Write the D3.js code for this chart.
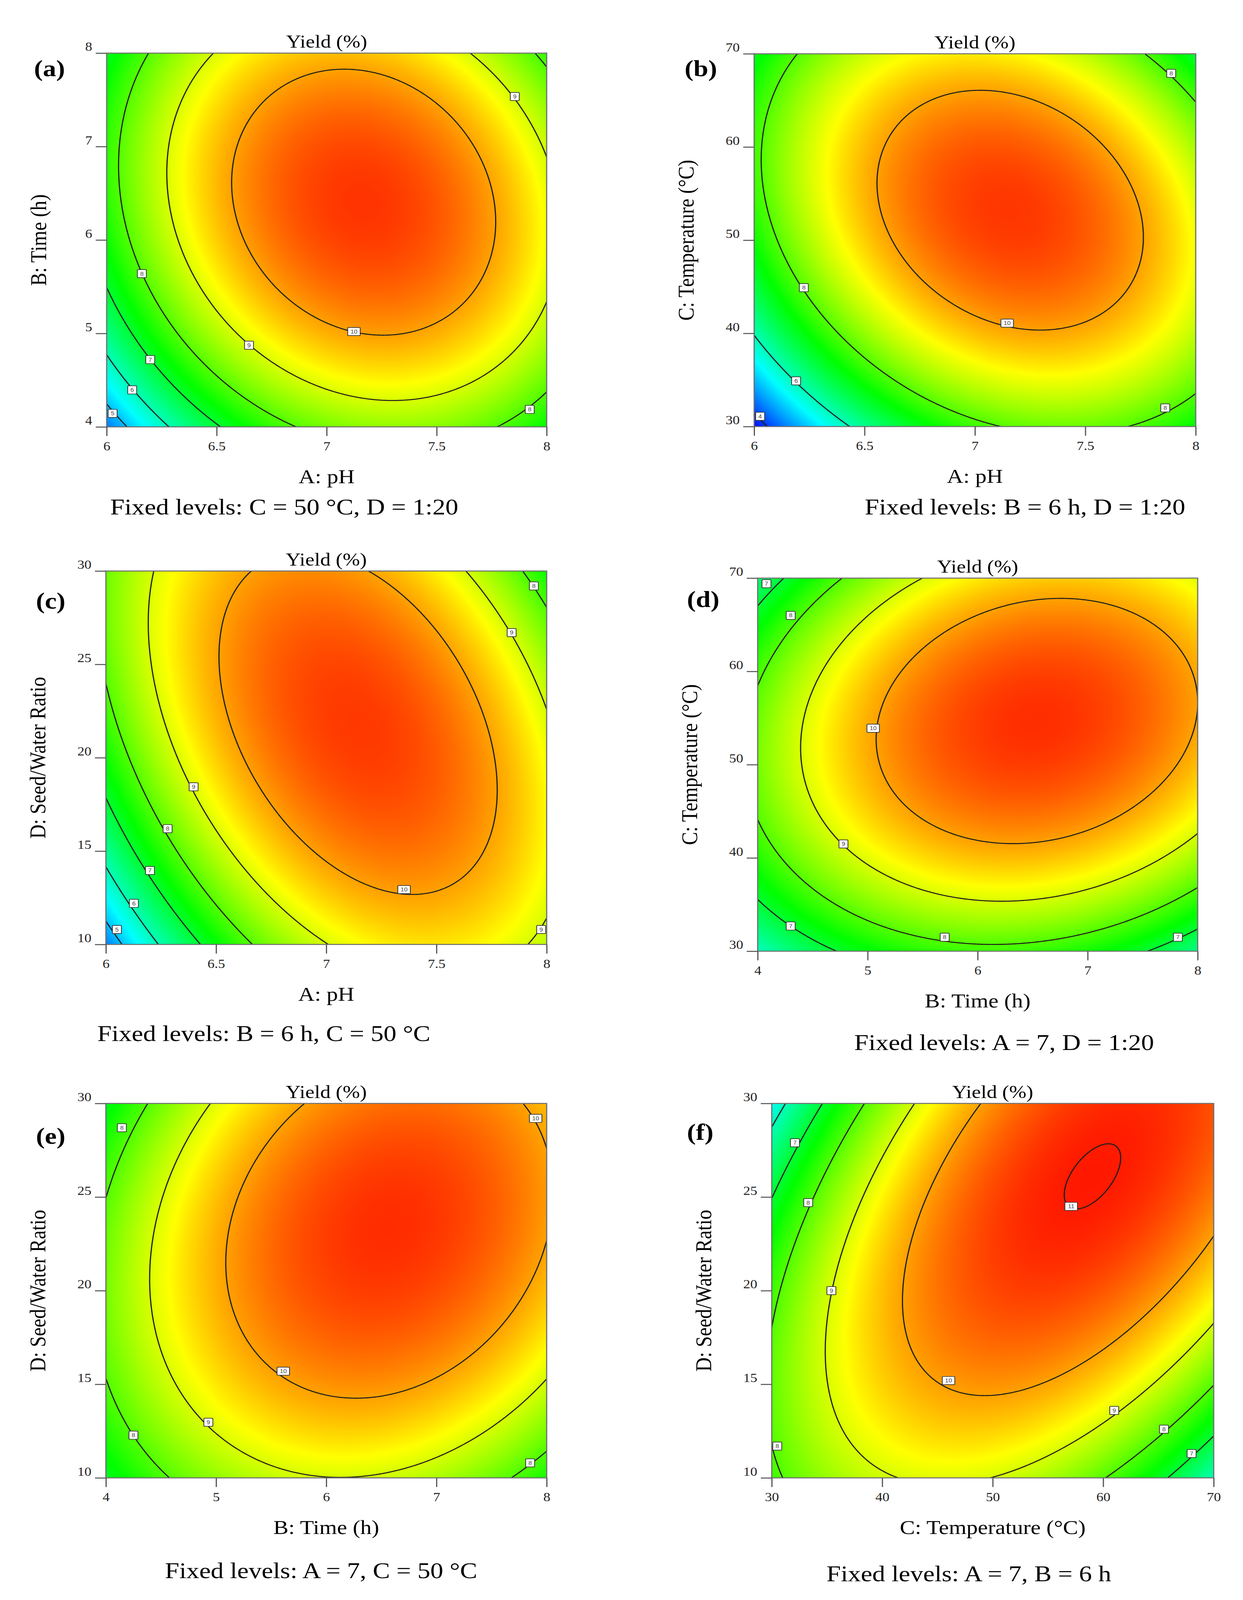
<!DOCTYPE html>
<html>
<head>
<meta charset="utf-8">
<script src="https://cdn.jsdelivr.net/npm/d3@7"></script>
<style>
  html, body { margin: 0; padding: 0; background: #fff; overflow: hidden; }
  svg { display: block; width: 100vw; height: 100vh; }
</style>
</head>
<body>
<svg id="fig" viewBox="0 0 3181 4730" preserveAspectRatio="none"></svg>
<script>
// ---------------------------------------------------------------------------
// Data: factors, fitted quadratic model (coded units), panel contents
// ---------------------------------------------------------------------------

// Factors A..D
const factorNames = ["A: pH", "B: Time (h)", "C: Temperature (°C)", "D: Seed/Water Ratio"];
const factorLow   = [6, 4, 30, 10];
const factorHigh  = [8, 8, 70, 30];
const factorTicks = [
  [6, 6.5, 7, 7.5, 8],
  [4, 5, 6, 7, 8],
  [30, 40, 50, 60, 70],
  [10, 15, 20, 25, 30],
];

// Yield (%) response surface, coded factors in [-1, 1]
const intercept   = 10.67;
const linearCoef  = [0.88, 0.752, 0.796, 0.574];
const squareCoef  = [-2.32, -1.65, -2.04, -1.10];
// [factor i, factor j, coefficient]
const interactionCoef = [
  [0, 1, -0.578],
  [0, 2, -0.98],
  [0, 3, -1.245],
  [1, 2, 0.546],
  [1, 3, 0.55],
  [2, 3, 1.70],
];

// Panels: which factor is on x / y
const panelTags    = ["(a)", "(b)", "(c)", "(d)", "(e)", "(f)"];
const panelXFactor = [0, 0, 0, 1, 1, 2];
const panelYFactor = [1, 2, 3, 2, 3, 3];
const fixedLevels = [
  "Fixed levels: C = 50 °C, D = 1:20",
  "Fixed levels: B = 6 h, D = 1:20",
  "Fixed levels: B = 6 h, C = 50 °C",
  "Fixed levels: A = 7, D = 1:20",
  "Fixed levels: A = 7, C = 50 °C",
  "Fixed levels: A = 7, B = 6 h",
];
const contourLevels = [
  [5, 6, 7, 8, 9, 10],
  [4, 6, 8, 10],
  [5, 6, 7, 8, 9, 10],
  [7, 8, 9, 10],
  [8, 9, 10],
  [6, 7, 8, 9, 10, 11],
];
// contour labels: [level, x value, y value]
const contourLabels = [
  [[9, 7.855, 7.536], [8, 6.16, 5.64], [10, 7.124, 5.02], [9, 6.647, 4.874],
   [7, 6.198, 4.72], [6, 6.116, 4.396], [5, 6.027, 4.144], [8, 7.923, 4.187]],
  [[8, 7.889, 67.9], [8, 6.225, 44.9], [10, 7.146, 41.1], [6, 6.19, 34.9],
   [4, 6.027, 31.1], [8, 7.862, 32.0]],
  [[8, 7.942, 29.2], [9, 7.841, 26.7], [9, 6.398, 18.44], [8, 6.28, 16.2],
   [7, 6.20, 13.96], [10, 7.353, 12.94], [6, 6.127, 12.2], [5, 6.05, 10.8],
   [9, 7.975, 10.8]],
  [[7, 4.08, 69.4], [8, 4.30, 66.0], [10, 5.05, 53.9], [9, 4.78, 41.5],
   [7, 4.30, 32.7], [8, 5.70, 31.5], [7, 7.82, 31.5]],
  [[8, 4.145, 28.7], [10, 7.9, 29.2], [10, 5.61, 15.7], [9, 4.93, 12.97],
   [8, 4.25, 12.28], [8, 7.85, 10.8]],
  [[7, 32.1, 27.9], [8, 33.3, 24.7], [11, 57.1, 24.5], [9, 35.4, 20.0],
   [10, 46.0, 15.2], [9, 61.0, 13.6], [8, 65.5, 12.6], [8, 30.5, 11.7],
   [7, 68.0, 11.3]],
];

// Design-Expert style colour ramp over the response range
const colorStops = [3.6, 5.5, 7.4, 9.3, 11.2];
const colorRange = ["#0000ff", "#00ffff", "#00ff00", "#ffff00", "#ff0000"];

// ---------------------------------------------------------------------------
// Layout (plot rectangles and text anchors, page pixels)
// ---------------------------------------------------------------------------
const plotBoxes = [
  [273, 157, 1126, 1105],
  [1930, 159, 1130, 1102],
  [271, 1688, 1128, 1104],
  [1939, 1709, 1126, 1103],
  [271, 3262, 1128, 1107],
  [1975, 3262, 1131, 1107],
];
const tagPos = [[87, 225], [1752, 225], [92, 1799], [1758, 1795], [92, 3381], [1758, 3370]];
const captionPos = [[282, 1521], [2213, 1521], [249, 3078], [2186, 3104], [422, 4665], [2115, 4674]];

const SERIF = "'Liberation Serif', 'Times New Roman', serif";

const svg = d3.select("#fig");
svg.append("rect").attr("width", 3181).attr("height", 4730).attr("fill", "#fff");
const defs = svg.append("defs");

const color = d3.scaleLinear().domain(colorStops).range(colorRange).clamp(true);
const LUT_N = 1024;
const zLo = colorStops[0], zHi = colorStops[colorStops.length - 1];
const lut = d3.range(LUT_N).map(i => d3.rgb(color(zLo + i / (LUT_N - 1) * (zHi - zLo))));

const toCoded   = (f, v) => (v - (factorLow[f] + factorHigh[f]) / 2) / ((factorHigh[f] - factorLow[f]) / 2);
const fromCoded = (f, u) => (factorLow[f] + factorHigh[f]) / 2 + u * (factorHigh[f] - factorLow[f]) / 2;

panelTags.forEach((tag, p) => {
  const [bx, by, bw, bh] = plotBoxes[p];
  const fx = panelXFactor[p], fy = panelYFactor[p];

  const xs = d3.scaleLinear().domain([factorLow[fx], factorHigh[fx]]).range([bx, bx + bw]);
  const ys = d3.scaleLinear().domain([factorLow[fy], factorHigh[fy]]).range([by + bh, by]);

  const pair = interactionCoef.find(([i, j]) => (i === fx && j === fy) || (i === fy && j === fx));
  const bxy = pair ? pair[2] : 0;
  // slice of the model with the remaining factors at their centre points
  const model = (u, v) => intercept + linearCoef[fx] * u + linearCoef[fy] * v +
    bxy * u * v + squareCoef[fx] * u * u + squareCoef[fy] * v * v;

  // --- filled colour surface, one sample per pixel
  const cv = document.createElement("canvas");
  cv.width = bw; cv.height = bh;
  const ctx = cv.getContext("2d");
  const img = ctx.createImageData(bw, bh);
  for (let j = 0; j < bh; j++) {
    const v = toCoded(fy, ys.invert(by + j + 0.5));
    for (let i = 0; i < bw; i++) {
      const u = toCoded(fx, xs.invert(bx + i + 0.5));
      let k = Math.round((model(u, v) - zLo) / (zHi - zLo) * (LUT_N - 1));
      k = Math.max(0, Math.min(LUT_N - 1, k));
      const c = lut[k], o = (j * bw + i) * 4;
      img.data[o] = c.r; img.data[o + 1] = c.g; img.data[o + 2] = c.b; img.data[o + 3] = 255;
    }
  }
  ctx.putImageData(img, 0, 0);

  const g = svg.append("g");
  g.append("image")
    .attr("x", bx).attr("y", by)
    .attr("width", bw).attr("height", bh)
    .attr("preserveAspectRatio", "none")
    .attr("href", cv.toDataURL());

  // --- contour lines (grid extends past the frame, then clipped)
  defs.append("clipPath").attr("id", "clip" + p)
    .append("rect").attr("x", bx).attr("y", by).attr("width", bw).attr("height", bh);

  const N = 320, EXT = 1.05, STEP = 2 * EXT / (N - 1);
  const grid = new Array(N * N);
  for (let j = 0; j < N; j++) {
    for (let i = 0; i < N; i++) grid[j * N + i] = model(-EXT + i * STEP, -EXT + j * STEP);
  }
  const contours = d3.contours().size([N, N]).thresholds(contourLevels[p])(grid);
  const proj = d3.geoTransform({
    point(gx, gy) {
      this.stream.point(xs(fromCoded(fx, -EXT + gx * STEP)), ys(fromCoded(fy, -EXT + gy * STEP)));
    }
  });
  const path = d3.geoPath(proj);

  g.append("g").attr("clip-path", `url(#clip${p})`)
    .selectAll("path")
    .data(contours)
    .join("path")
    .attr("d", path)
    .attr("fill", "none")
    .attr("stroke", "#1e1e1e")
    .attr("stroke-width", 3)
    .attr("stroke-linejoin", "round");

  // --- contour labels
  const lab = g.selectAll(".clabel")
    .data(contourLabels[p])
    .join("g")
    .attr("class", "clabel")
    .attr("transform", d => `translate(${xs(d[1])},${ys(d[2])})`);
  lab.append("rect")
    .attr("x", d => d[0] >= 10 ? -16 : -11.5)
    .attr("y", -12)
    .attr("width", d => d[0] >= 10 ? 32 : 23)
    .attr("height", 24)
    .attr("rx", 2)
    .attr("fill", "#fff")
    .attr("stroke", "#333")
    .attr("stroke-width", 2);
  lab.append("text")
    .attr("text-anchor", "middle")
    .attr("dy", "0.36em")
    .attr("font-family", "'Liberation Sans', Arial, sans-serif")
    .attr("font-size", 16)
    .attr("fill", "#444")
    .text(d => d[0]);

  // --- frame
  g.append("rect")
    .attr("x", bx).attr("y", by).attr("width", bw).attr("height", bh)
    .attr("fill", "none").attr("stroke", "#6f6f6f").attr("stroke-width", 3);

  // --- axes
  const fmt = d3.format("");
  const xAxis = g.append("g")
    .attr("transform", `translate(0,${by + bh})`)
    .call(d3.axisBottom(xs).tickValues(factorTicks[fx]).tickSize(27).tickFormat(fmt));
  const yAxis = g.append("g")
    .attr("transform", `translate(${bx},0)`)
    .call(d3.axisLeft(ys).tickValues(factorTicks[fy]).tickSize(28).tickFormat(fmt));

  [xAxis, yAxis].forEach(ax => {
    ax.select(".domain").remove();
    ax.attr("font-family", SERIF).attr("font-size", 36);
    ax.selectAll(".tick line").attr("stroke", "#555").attr("stroke-width", 3);
    ax.selectAll(".tick text").attr("fill", "#222");
  });
  xAxis.selectAll(".tick text").attr("y", 69).attr("dy", null);
  yAxis.selectAll(".tick text").attr("x", -37).attr("y", -7).attr("dy", null);

  // --- titles
  g.append("text")
    .attr("x", bx + bw / 2).attr("y", by - 16)
    .attr("text-anchor", "middle")
    .attr("font-family", SERIF).attr("font-size", 53)
    .text("Yield (%)");

  g.append("text")
    .attr("x", bx + bw / 2).attr("y", by + bh + 166)
    .attr("text-anchor", "middle")
    .attr("font-family", SERIF).attr("font-size", 58)
    .text(factorNames[fx]);

  g.append("text")
    .attr("transform", `translate(${bx - 155},${by + bh / 2}) rotate(-90)`)
    .attr("text-anchor", "middle")
    .attr("font-family", SERIF).attr("font-size", 58)
    .text(factorNames[fy]);

  g.append("text")
    .attr("x", tagPos[p][0]).attr("y", tagPos[p][1])
    .attr("font-family", SERIF).attr("font-size", 68).attr("font-weight", "bold")
    .text(tag);

  g.append("text")
    .attr("x", captionPos[p][0]).attr("y", captionPos[p][1])
    .attr("font-family", SERIF).attr("font-size", 66)
    .text(fixedLevels[p]);
});
</script>
</body>
</html>
